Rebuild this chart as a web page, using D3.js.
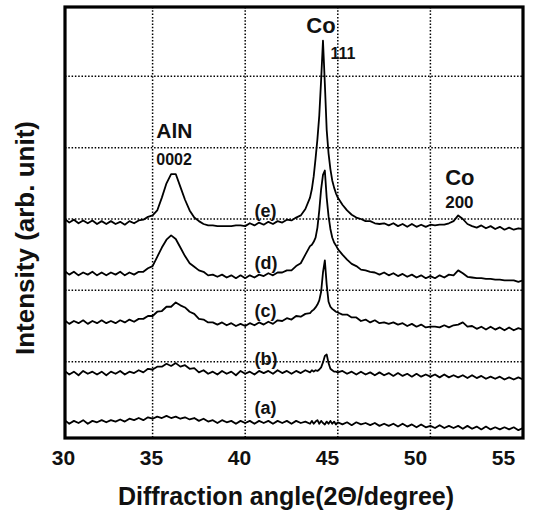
<!DOCTYPE html>
<html>
<head>
<meta charset="utf-8">
<script src="https://cdn.jsdelivr.net/npm/d3@7"></script>
<style>
  body { margin: 0; background: #fff; }
  text { font-family: "Liberation Sans", Arial, sans-serif; font-weight: bold; fill: #111; }
</style>
</head>
<body>
<div id="chart"></div>
<script>

// Diffraction angles (2θ) shared by all five scans, denser around the Co 111 peak
var angles = [
  30, 30.25, 30.5, 30.75, 31, 31.25, 31.5, 31.75, 32, 32.25, 32.5, 32.75, 33, 33.25, 33.5, 33.75,
  34, 34.25, 34.5, 34.75, 35, 35.25, 35.5, 35.75, 36, 36.25, 36.5, 36.75, 37, 37.25, 37.5, 37.75,
  38, 38.25, 38.5, 38.75, 39, 39.25, 39.5, 39.75, 40, 40.25, 40.5, 40.75, 41, 41.25, 41.5, 41.75,
  42, 42.25, 42.5, 42.75, 43, 43.25, 43.5,
  43.6, 43.7, 43.8, 43.9, 44.0, 44.1, 44.2, 44.3, 44.4, 44.5, 44.6, 44.7, 44.8, 44.9, 45.0,
  45.25, 45.5, 45.75, 46, 46.25, 46.5, 46.75, 47, 47.25, 47.5, 47.75, 48, 48.25, 48.5, 48.75,
  49, 49.25, 49.5, 49.75, 50, 50.25, 50.5, 50.75, 51, 51.25, 51.5, 51.75, 52, 52.25, 52.5, 52.75,
  53, 53.25, 53.5, 53.75, 54, 54.25, 54.5, 54.75, 55
];

// Intensities (arb. unit, stacked offsets included)
var scanA = [
  0.15, 0.18, 0.13, 0.17, 0.14, 0.18, 0.13, 0.17, 0.15, 0.18, 0.15, 0.18, 0.16, 0.19, 0.16, 0.20,
  0.18, 0.21, 0.18, 0.22, 0.20, 0.23, 0.21, 0.24, 0.21, 0.23, 0.20, 0.22, 0.19, 0.21, 0.17, 0.20,
  0.16, 0.18, 0.14, 0.18, 0.15, 0.17, 0.13, 0.17, 0.14, 0.17, 0.13, 0.17, 0.14, 0.17, 0.13, 0.17,
  0.14, 0.17, 0.13, 0.17, 0.14, 0.16, 0.13,
  0.17, 0.13, 0.16, 0.18, 0.13, 0.17, 0.14, 0.12, 0.16, 0.13, 0.17, 0.13, 0.16, 0.12, 0.15,
  0.12, 0.15, 0.11, 0.15, 0.12, 0.14, 0.11, 0.14, 0.10, 0.13, 0.10, 0.13, 0.09, 0.13, 0.09,
  0.12, 0.08, 0.12, 0.08, 0.10, 0.07, 0.11, 0.07, 0.10, 0.07, 0.10, 0.06, 0.10, 0.06, 0.09, 0.05,
  0.09, 0.05, 0.08, 0.05, 0.08, 0.05, 0.08, 0.04, 0.07
];

var scanB = [
  0.84, 0.87, 0.82, 0.86, 0.81, 0.87, 0.83, 0.86, 0.82, 0.86, 0.81, 0.86, 0.83, 0.87, 0.82, 0.86,
  0.84, 0.88, 0.85, 0.90, 0.89, 0.93, 0.93, 0.97, 0.94, 0.98, 0.93, 0.95, 0.90, 0.91, 0.85, 0.88,
  0.83, 0.86, 0.82, 0.87, 0.83, 0.86, 0.81, 0.87, 0.83, 0.86, 0.82, 0.87, 0.84, 0.87, 0.83, 0.88,
  0.84, 0.87, 0.83, 0.87, 0.84, 0.88, 0.85,
  0.88, 0.86, 0.88, 0.87, 0.89, 0.92, 0.99, 1.08, 1.10, 0.98, 0.90, 0.88, 0.86, 0.86, 0.85,
  0.87, 0.83, 0.86, 0.82, 0.86, 0.82, 0.85, 0.81, 0.85, 0.81, 0.84, 0.80, 0.84, 0.80, 0.83,
  0.79, 0.83, 0.79, 0.82, 0.79, 0.82, 0.78, 0.82, 0.78, 0.81, 0.78, 0.81, 0.77, 0.81, 0.77, 0.80,
  0.76, 0.79, 0.76, 0.79, 0.75, 0.78, 0.75, 0.78, 0.75
];

var scanC = [
  1.55, 1.58, 1.53, 1.57, 1.54, 1.58, 1.53, 1.57, 1.54, 1.58, 1.54, 1.57, 1.54, 1.58, 1.55, 1.59,
  1.56, 1.60, 1.60, 1.64, 1.64, 1.70, 1.71, 1.77, 1.77, 1.83, 1.79, 1.76, 1.70, 1.67, 1.60, 1.59,
  1.55, 1.55, 1.52, 1.55, 1.51, 1.54, 1.50, 1.53, 1.50, 1.54, 1.51, 1.55, 1.52, 1.56, 1.53, 1.58,
  1.57, 1.61, 1.59, 1.64, 1.63, 1.67, 1.68,
  1.71, 1.73, 1.76, 1.80, 1.86, 1.98, 2.25, 2.42, 2.08, 1.84, 1.77, 1.74, 1.72, 1.70, 1.69,
  1.66, 1.66, 1.62, 1.62, 1.57, 1.59, 1.55, 1.58, 1.54, 1.55, 1.53, 1.55, 1.52, 1.54, 1.50,
  1.53, 1.49, 1.52, 1.48, 1.49, 1.49, 1.48, 1.51, 1.48, 1.51, 1.52, 1.55, 1.49, 1.50, 1.46, 1.49,
  1.45, 1.49, 1.45, 1.48, 1.44, 1.48, 1.44, 1.47, 1.45
];

var scanD = [
  2.24, 2.27, 2.22, 2.26, 2.21, 2.25, 2.22, 2.26, 2.21, 2.25, 2.21, 2.25, 2.22, 2.26, 2.21, 2.25,
  2.22, 2.26, 2.26, 2.31, 2.34, 2.47, 2.60, 2.71, 2.77, 2.72, 2.60, 2.48, 2.38, 2.33, 2.28, 2.26,
  2.21, 2.22, 2.19, 2.22, 2.18, 2.21, 2.17, 2.21, 2.17, 2.21, 2.18, 2.22, 2.20, 2.24, 2.21, 2.25,
  2.25, 2.28, 2.28, 2.34, 2.38, 2.50, 2.62,
  2.64, 2.68, 2.74, 2.88, 3.12, 3.42, 3.62, 3.68, 3.30, 3.04, 2.86, 2.74, 2.67, 2.63, 2.58,
  2.50, 2.43, 2.37, 2.34, 2.29, 2.28, 2.26, 2.25, 2.22, 2.25, 2.21, 2.24, 2.20, 2.23, 2.19,
  2.22, 2.18, 2.21, 2.17, 2.20, 2.17, 2.21, 2.18, 2.22, 2.21, 2.28, 2.24, 2.19, 2.18, 2.17, 2.17,
  2.16, 2.16, 2.15, 2.15, 2.14, 2.14, 2.14, 2.12, 2.14
];

var scanE = [
  2.97, 3.00, 2.95, 2.99, 2.94, 2.98, 2.94, 2.98, 2.93, 2.97, 2.93, 2.97, 2.93, 2.96, 2.92, 2.97,
  2.94, 2.98, 2.99, 3.03, 3.05, 3.12, 3.30, 3.50, 3.63, 3.63, 3.45, 3.27, 3.12, 3.02, 2.97, 2.93,
  2.91, 2.91, 2.90, 2.90, 2.90, 2.90, 2.91, 2.91, 2.90, 2.94, 2.91, 2.95, 2.92, 2.96, 2.93, 2.97,
  2.95, 2.99, 2.98, 3.02, 3.05, 3.14, 3.30,
  3.42, 3.60, 3.85, 4.12, 4.45, 4.95, 5.50, 4.90, 4.25, 3.92, 3.70, 3.54, 3.44, 3.36, 3.30,
  3.20, 3.12, 3.06, 3.02, 3.00, 2.97, 2.97, 2.94, 2.93, 2.94, 2.91, 2.94, 2.90, 2.93, 2.89,
  2.93, 2.89, 2.92, 2.89, 2.92, 2.91, 2.92, 2.92, 2.94, 2.97, 3.05, 3.00, 2.93, 2.90, 2.88, 2.91,
  2.87, 2.90, 2.86, 2.89, 2.85, 2.88, 2.85, 2.87, 2.86
];

var scans = [scanA, scanB, scanC, scanD, scanE];
var scanLabels = ["(a)", "(b)", "(c)", "(d)", "(e)"];

var xTicks = [30, 35, 40, 45, 50, 55];
var xGrid = [35, 40, 45, 50];
var yGrid = [1, 2, 3, 4, 5];

var width = 544,
    height = 516;

// frame of the plot area
var frame = { left: 65, top: 7, right: 523, bottom: 438 };

var xScale = d3.scaleLinear()
    .domain([30, 55])
    .range([60, 523]);

// the printed tick numbers sit slightly left of the grid lines in the original
var xLabelScale = d3.scaleLinear()
    .domain([30, 55])
    .range([63, 503]);

var yScale = d3.scaleLinear()
    .domain([0, 6])
    .range([433, 5]);

var svg = d3.select("#chart").append("svg")
    .attr("width", width)
    .attr("height", height);

svg.append("defs").append("clipPath")
    .attr("id", "plot-clip")
  .append("rect")
    .attr("x", frame.left)
    .attr("y", frame.top)
    .attr("width", frame.right - frame.left)
    .attr("height", frame.bottom - frame.top);

// dotted grid

var grid = svg.append("g")
    .attr("class", "grid")
    .attr("stroke", "#000")
    .attr("stroke-width", 1.5)
    .attr("stroke-dasharray", "1.5,1.8");

grid.selectAll("line.v")
    .data(xGrid)
  .enter().append("line")
    .attr("class", "v")
    .attr("x1", function(d) { return xScale(d); })
    .attr("x2", function(d) { return xScale(d); })
    .attr("y1", frame.top)
    .attr("y2", frame.bottom);

grid.selectAll("line.h")
    .data(yGrid)
  .enter().append("line")
    .attr("class", "h")
    .attr("x1", frame.left)
    .attr("x2", frame.right)
    .attr("y1", function(d) { return yScale(d); })
    .attr("y2", function(d) { return yScale(d); });

// scans

var line = d3.line()
    .x(function(d, i) { return xScale(angles[i]); })
    .y(function(d) { return yScale(d); });

svg.append("g")
    .attr("clip-path", "url(#plot-clip)")
  .selectAll("path")
    .data(scans)
  .enter().append("path")
    .attr("fill", "none")
    .attr("stroke", "#000")
    .attr("stroke-width", 1.8)
    .attr("stroke-linejoin", "round")
    .attr("d", line);

// frame

svg.append("rect")
    .attr("x", frame.left)
    .attr("y", frame.top)
    .attr("width", frame.right - frame.left)
    .attr("height", frame.bottom - frame.top)
    .attr("fill", "none")
    .attr("stroke", "#000")
    .attr("stroke-width", 3.2);

// x axis numbers

var xAxis = svg.append("g")
    .attr("transform", "translate(0," + (frame.bottom + 9) + ")")
    .call(d3.axisBottom(xLabelScale).tickValues(xTicks).tickSize(0).tickFormat(d3.format("d")));

xAxis.select(".domain").remove();
xAxis.selectAll("text")
    .attr("font-size", 21)
    .attr("font-family", "Liberation Sans, Arial, sans-serif")
    .attr("font-weight", "bold")
    .attr("fill", "#111");

// axis titles

svg.append("text")
    .attr("x", 286)
    .attr("y", 505)
    .attr("text-anchor", "middle")
    .attr("font-size", 25)
    .text("Diffraction angle(2\u0398/degree)");

svg.append("text")
    .attr("transform", "translate(34,238) rotate(-90)")
    .attr("text-anchor", "middle")
    .attr("font-size", 26)
    .text("Intensity (arb. unit)");

// scan labels, placed just above each baseline at 2θ ≈ 40.5

svg.selectAll("text.scan")
    .data(scanLabels)
  .enter().append("text")
    .attr("class", "scan")
    .attr("x", xScale(40.5))
    .attr("y", function(d, i) { return yScale(scans[i][40]) - 9; })
    .attr("font-size", 18)
    .text(function(d) { return d; });

// peak annotations

var peaks = svg.append("g").attr("class", "peaks");

peaks.append("text").attr("x", xScale(35.2)).attr("y", 138).attr("font-size", 21).text("AlN");
peaks.append("text").attr("x", xScale(35.2)).attr("y", 165).attr("font-size", 16).text("0002");
peaks.append("text").attr("x", xScale(43.3)).attr("y", 33).attr("font-size", 22).text("Co");
peaks.append("text").attr("x", xScale(44.6)).attr("y", 59).attr("font-size", 16).text("111");
peaks.append("text").attr("x", xScale(50.8)).attr("y", 185).attr("font-size", 22).text("Co");
peaks.append("text").attr("x", xScale(50.8)).attr("y", 208).attr("font-size", 17).text("200");

</script>
</body>
</html>
